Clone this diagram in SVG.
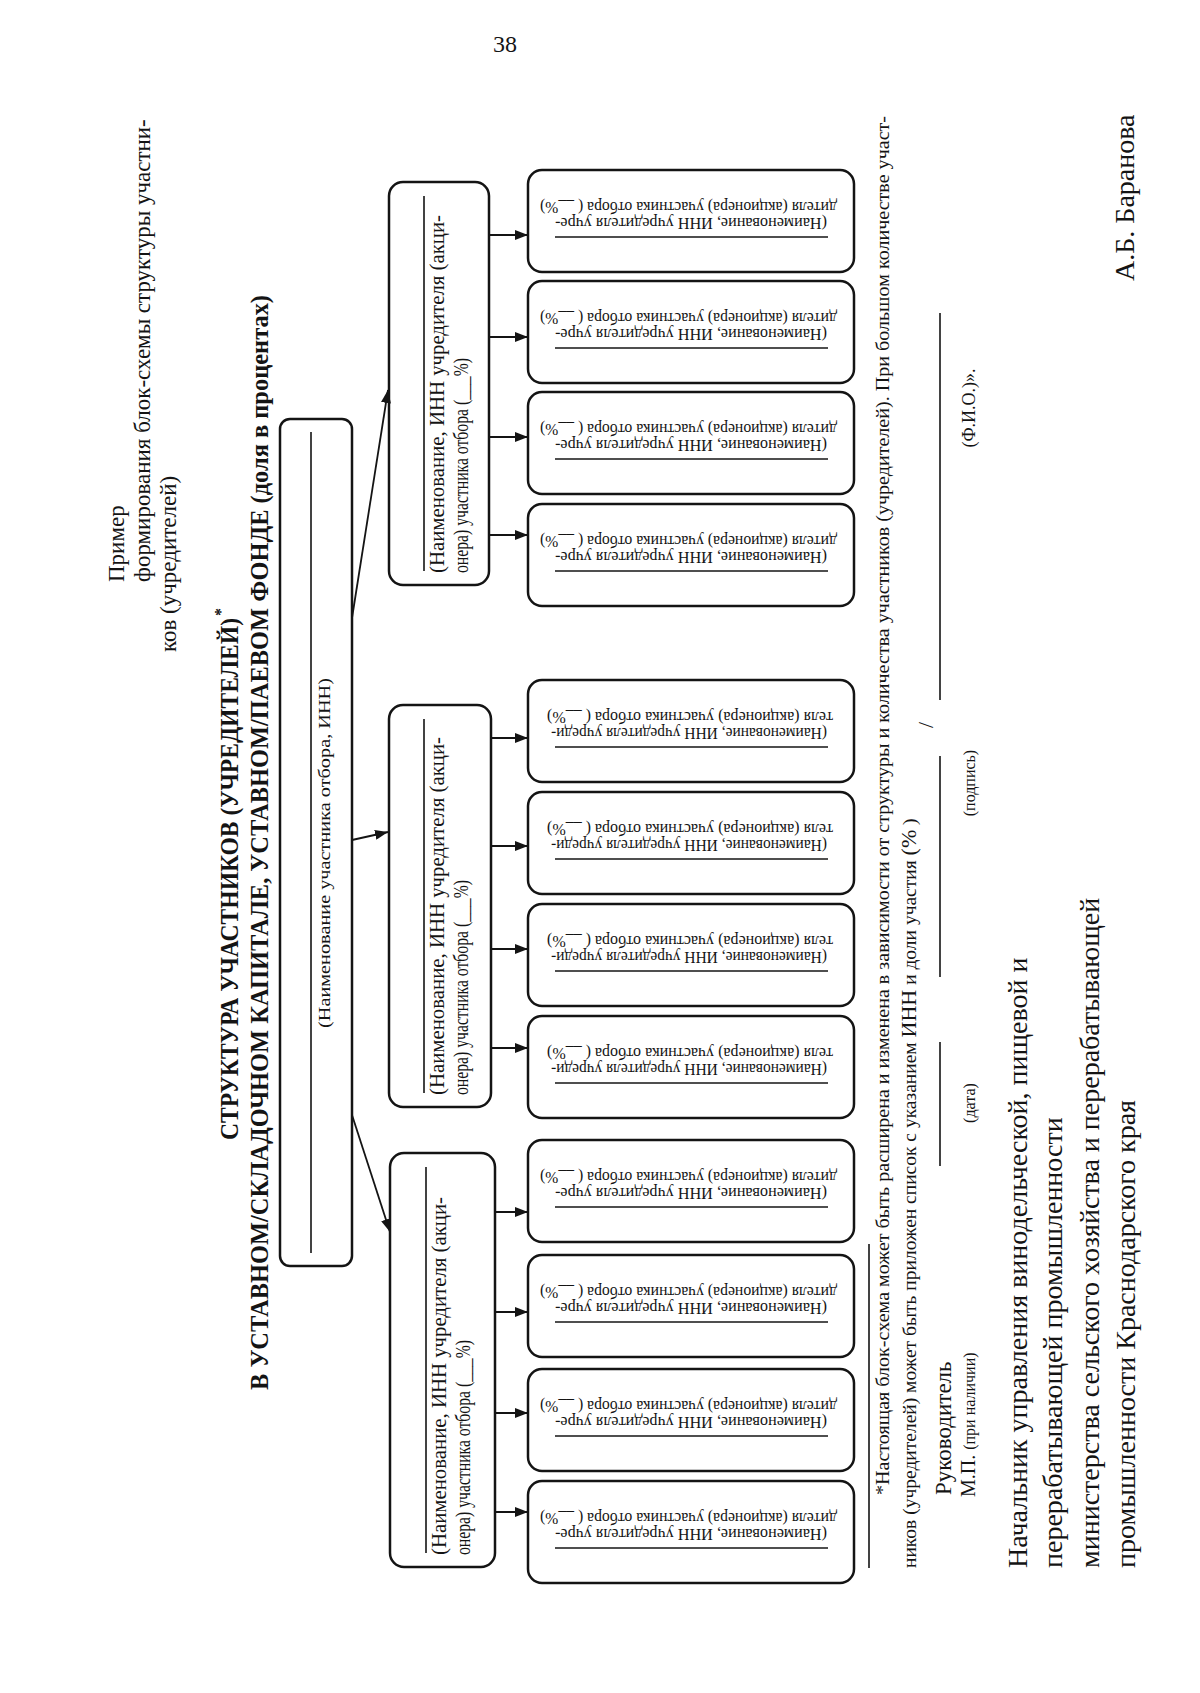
<svg xmlns="http://www.w3.org/2000/svg" width="1200" height="1693" viewBox="0 0 1200 1693">
<style>
text{font-family:"Liberation Serif","Times New Roman",serif;fill:#141414}
.box{fill:none;stroke:#141414;stroke-width:2.5}
.ln{stroke:#141414;stroke-width:1.6;fill:none}
.ar{stroke:#141414;stroke-width:1.8;fill:none;marker-end:url(#ah)}
.t23{font-size:23px}
.hd{font-size:26px;font-weight:bold}
.g{font-size:20px}
.c{font-size:17.5px}
.fn{font-size:19.5px}
.big{font-size:28px}
.lb{font-size:16px}
</style>
<defs>
<marker id="ah" viewBox="0 0 13 10" refX="13" refY="5" markerWidth="13" markerHeight="10" markerUnits="userSpaceOnUse" orient="auto"><path d="M0,0 L13,5 L0,10 z" fill="#141414"/></marker>
</defs>
<rect width="1200" height="1693" fill="#fff"/>
<text x="505" y="52" font-size="24" text-anchor="middle">38</text>

<g id="title">
<text class="t23" x="124" y="582" transform="rotate(-90 124 582)">Пример</text>
<text class="t23" x="150" y="582" transform="rotate(-90 150 582)">формирования блок-схемы структуры участни-</text>
<text class="t23" x="176" y="652" transform="rotate(-90 176 652)">ков (учредителей)</text>
</g>

<g id="heading">
<text class="hd" x="238" y="1140" transform="rotate(-90 238 1140)" textLength="522" lengthAdjust="spacingAndGlyphs">СТРУКТУРА УЧАСТНИКОВ (УЧРЕДИТЕЛЕЙ)</text>
<text x="226" y="616" transform="rotate(-90 226 616)" font-size="16" font-weight="bold">*</text>
<text class="hd" x="268" y="1390" transform="rotate(-90 268 1390)" textLength="1095" lengthAdjust="spacingAndGlyphs">В УСТАВНОМ/СКЛАДОЧНОМ КАПИТАЛЕ, УСТАВНОМ/ПАЕВОМ ФОНДЕ (доля в процентах)</text>
</g>

<g id="main">
<rect class="box" x="280" y="419" width="72" height="847" rx="10"/>
<line class="ln" x1="311" y1="432" x2="311" y2="1253"/>
<text x="330" y="853" transform="rotate(-90 330 853)" font-size="17" text-anchor="middle" textLength="350" lengthAdjust="spacingAndGlyphs">(Наименование участника отбора, ИНН)</text>
</g>

<g id="connectors">
<line class="ar" x1="352" y1="618" x2="388" y2="390"/>
<line class="ar" x1="352" y1="840" x2="388" y2="832"/>
<line class="ar" x1="352" y1="1115" x2="390" y2="1232"/>
<line class="ar" x1="489" y1="235" x2="528" y2="235"/>
<line class="ar" x1="489" y1="337" x2="528" y2="337"/>
<line class="ar" x1="489" y1="437" x2="528" y2="437"/>
<line class="ar" x1="489" y1="535" x2="528" y2="535"/>
<line class="ar" x1="491" y1="738" x2="528" y2="738"/>
<line class="ar" x1="491" y1="846" x2="528" y2="846"/>
<line class="ar" x1="491" y1="949" x2="528" y2="949"/>
<line class="ar" x1="491" y1="1048" x2="528" y2="1048"/>
<line class="ar" x1="495" y1="1212" x2="528" y2="1212"/>
<line class="ar" x1="495" y1="1312" x2="528" y2="1312"/>
<line class="ar" x1="495" y1="1413" x2="528" y2="1413"/>
<line class="ar" x1="495" y1="1512" x2="528" y2="1512"/>
</g>

<g id="groupR">
<rect class="box" x="389" y="182" width="100" height="403" rx="14"/>
<line class="ln" x1="424" y1="571" x2="424" y2="196"/>
<text class="g" x="444" y="573" transform="rotate(-90 444 573)" textLength="358" lengthAdjust="spacingAndGlyphs">(Наименование, ИНН учредителя (акци-</text>
<text class="g" x="468" y="573" transform="rotate(-90 468 573)" textLength="215" lengthAdjust="spacingAndGlyphs">онера) участника отбора (___%)</text>
</g>
<g id="groupM">
<rect class="box" x="389" y="705" width="102" height="402" rx="14"/>
<line class="ln" x1="424" y1="1093" x2="424" y2="719"/>
<text class="g" x="444" y="1095" transform="rotate(-90 444 1095)" textLength="358" lengthAdjust="spacingAndGlyphs">(Наименование, ИНН учредителя (акци-</text>
<text class="g" x="468" y="1095" transform="rotate(-90 468 1095)" textLength="215" lengthAdjust="spacingAndGlyphs">онера) участника отбора (___%)</text>
</g>
<g id="groupL">
<rect class="box" x="390" y="1153" width="105" height="414" rx="14"/>
<line class="ln" x1="426" y1="1553" x2="426" y2="1167"/>
<text class="g" x="446" y="1555" transform="rotate(-90 446 1555)" textLength="358" lengthAdjust="spacingAndGlyphs">(Наименование, ИНН учредителя (акци-</text>
<text class="g" x="470" y="1555" transform="rotate(-90 470 1555)" textLength="215" lengthAdjust="spacingAndGlyphs">онера) участника отбора (___%)</text>
</g>

<g id="childR1"><rect class="box" x="528" y="170" width="326" height="102" rx="14"/><line class="ln" x1="555" y1="237" x2="828" y2="237"/><text class="c" x="827" y="218" transform="rotate(180 827 218)" textLength="272" lengthAdjust="spacingAndGlyphs">(Наименование, ИНН учредителя учре-</text><text class="c" x="837" y="202" transform="rotate(180 837 202)" textLength="297" lengthAdjust="spacingAndGlyphs">дителя (акционера) участника отбора ( __%)</text></g>
<g id="childR2"><rect class="box" x="528" y="281" width="326" height="102" rx="14"/><line class="ln" x1="555" y1="348" x2="828" y2="348"/><text class="c" x="827" y="329" transform="rotate(180 827 329)" textLength="272" lengthAdjust="spacingAndGlyphs">(Наименование, ИНН учредителя учре-</text><text class="c" x="837" y="313" transform="rotate(180 837 313)" textLength="297" lengthAdjust="spacingAndGlyphs">дителя (акционера) участника отбора ( __%)</text></g>
<g id="childR3"><rect class="box" x="528" y="392" width="326" height="102" rx="14"/><line class="ln" x1="555" y1="459" x2="828" y2="459"/><text class="c" x="827" y="440" transform="rotate(180 827 440)" textLength="272" lengthAdjust="spacingAndGlyphs">(Наименование, ИНН учредителя учре-</text><text class="c" x="837" y="424" transform="rotate(180 837 424)" textLength="297" lengthAdjust="spacingAndGlyphs">дителя (акционера) участника отбора ( __%)</text></g>
<g id="childR4"><rect class="box" x="528" y="504" width="326" height="102" rx="14"/><line class="ln" x1="555" y1="571" x2="828" y2="571"/><text class="c" x="827" y="552" transform="rotate(180 827 552)" textLength="272" lengthAdjust="spacingAndGlyphs">(Наименование, ИНН учредителя учре-</text><text class="c" x="837" y="536" transform="rotate(180 837 536)" textLength="297" lengthAdjust="spacingAndGlyphs">дителя (акционера) участника отбора ( __%)</text></g>

<g id="childM1"><rect class="box" x="528" y="680" width="326" height="102" rx="14"/><line class="ln" x1="555" y1="747" x2="828" y2="747"/><text class="c" x="827" y="728" transform="rotate(180 827 728)" textLength="276" lengthAdjust="spacingAndGlyphs">(Наименование, ИНН учредителя учреди-</text><text class="c" x="833" y="712" transform="rotate(180 833 712)" textLength="286" lengthAdjust="spacingAndGlyphs">теля (акционера) участника отбора ( __%)</text></g>
<g id="childM2"><rect class="box" x="528" y="792" width="326" height="102" rx="14"/><line class="ln" x1="555" y1="859" x2="828" y2="859"/><text class="c" x="827" y="840" transform="rotate(180 827 840)" textLength="276" lengthAdjust="spacingAndGlyphs">(Наименование, ИНН учредителя учреди-</text><text class="c" x="833" y="824" transform="rotate(180 833 824)" textLength="286" lengthAdjust="spacingAndGlyphs">теля (акционера) участника отбора ( __%)</text></g>
<g id="childM3"><rect class="box" x="528" y="904" width="326" height="102" rx="14"/><line class="ln" x1="555" y1="971" x2="828" y2="971"/><text class="c" x="827" y="952" transform="rotate(180 827 952)" textLength="276" lengthAdjust="spacingAndGlyphs">(Наименование, ИНН учредителя учреди-</text><text class="c" x="833" y="936" transform="rotate(180 833 936)" textLength="286" lengthAdjust="spacingAndGlyphs">теля (акционера) участника отбора ( __%)</text></g>
<g id="childM4"><rect class="box" x="528" y="1016" width="326" height="102" rx="14"/><line class="ln" x1="555" y1="1083" x2="828" y2="1083"/><text class="c" x="827" y="1064" transform="rotate(180 827 1064)" textLength="276" lengthAdjust="spacingAndGlyphs">(Наименование, ИНН учредителя учреди-</text><text class="c" x="833" y="1048" transform="rotate(180 833 1048)" textLength="286" lengthAdjust="spacingAndGlyphs">теля (акционера) участника отбора ( __%)</text></g>

<g id="childL1"><rect class="box" x="528" y="1140" width="326" height="102" rx="14"/><line class="ln" x1="555" y1="1207" x2="828" y2="1207"/><text class="c" x="827" y="1188" transform="rotate(180 827 1188)" textLength="272" lengthAdjust="spacingAndGlyphs">(Наименование, ИНН учредителя учре-</text><text class="c" x="837" y="1172" transform="rotate(180 837 1172)" textLength="297" lengthAdjust="spacingAndGlyphs">дителя (акционера) участника отбора ( __%)</text></g>
<g id="childL2"><rect class="box" x="528" y="1255" width="326" height="102" rx="14"/><line class="ln" x1="555" y1="1322" x2="828" y2="1322"/><text class="c" x="827" y="1303" transform="rotate(180 827 1303)" textLength="272" lengthAdjust="spacingAndGlyphs">(Наименование, ИНН учредителя учре-</text><text class="c" x="837" y="1287" transform="rotate(180 837 1287)" textLength="297" lengthAdjust="spacingAndGlyphs">дителя (акционера) участника отбора ( __%)</text></g>
<g id="childL3"><rect class="box" x="528" y="1369" width="326" height="102" rx="14"/><line class="ln" x1="555" y1="1436" x2="828" y2="1436"/><text class="c" x="827" y="1417" transform="rotate(180 827 1417)" textLength="272" lengthAdjust="spacingAndGlyphs">(Наименование, ИНН учредителя учре-</text><text class="c" x="837" y="1401" transform="rotate(180 837 1401)" textLength="297" lengthAdjust="spacingAndGlyphs">дителя (акционера) участника отбора ( __%)</text></g>
<g id="childL4"><rect class="box" x="528" y="1481" width="326" height="102" rx="14"/><line class="ln" x1="555" y1="1548" x2="828" y2="1548"/><text class="c" x="827" y="1529" transform="rotate(180 827 1529)" textLength="272" lengthAdjust="spacingAndGlyphs">(Наименование, ИНН учредителя учре-</text><text class="c" x="837" y="1513" transform="rotate(180 837 1513)" textLength="297" lengthAdjust="spacingAndGlyphs">дителя (акционера) участника отбора ( __%)</text></g>

<g id="footnote">
<line class="ln" x1="869" y1="1244" x2="869" y2="1568"/>
<text class="fn" x="889" y="1495" transform="rotate(-90 889 1495)" textLength="1379" lengthAdjust="spacingAndGlyphs">*Настоящая блок-схема может быть расширена и изменена в зависимости от структуры и количества участников (учредителей). При большом количестве участ-</text>
<text class="fn" x="916" y="1568" transform="rotate(-90 916 1568)">ников (учредителей) может быть приложен список с указанием <tspan font-size="22">ИНН</tspan> и доли участия <tspan font-size="22">(%</tspan> )</text>
</g>

<g id="signature">
<text x="951" y="1495" transform="rotate(-90 951 1495)" font-size="23">Руководитель</text>
<text x="975" y="1497" transform="rotate(-90 975 1497)" font-size="20">М.П. <tspan font-size="16">(при наличии)</tspan></text>
<line class="ln" x1="940" y1="1042" x2="940" y2="1166"/>
<line class="ln" x1="940" y1="756" x2="940" y2="977"/>
<text x="933" y="728" transform="rotate(-90 933 728)" font-size="22">/</text>
<line class="ln" x1="940" y1="313" x2="940" y2="700"/>
<text class="lb" x="975" y="1103" transform="rotate(-90 975 1103)" text-anchor="middle">(дата)</text>
<text class="lb" x="975" y="783" transform="rotate(-90 975 783)" text-anchor="middle">(подпись)</text>
<text x="975" y="408" transform="rotate(-90 975 408)" text-anchor="middle" font-size="18">(Ф.И.О.)».</text>
</g>

<g id="official">
<text class="big" x="1027" y="1568" transform="rotate(-90 1027 1568)">Начальник управления винодельческой, пищевой и</text>
<text class="big" x="1062" y="1568" transform="rotate(-90 1062 1568)">перерабатывающей промышленности</text>
<text class="big" x="1099" y="1568" transform="rotate(-90 1099 1568)">министерства сельского хозяйства и перерабатывающей</text>
<text class="big" x="1135" y="1568" transform="rotate(-90 1135 1568)">промышленности Краснодарского края</text>
<text class="big" x="1134" y="281" transform="rotate(-90 1134 281)">А.Б. Баранова</text>
</g>
</svg>
